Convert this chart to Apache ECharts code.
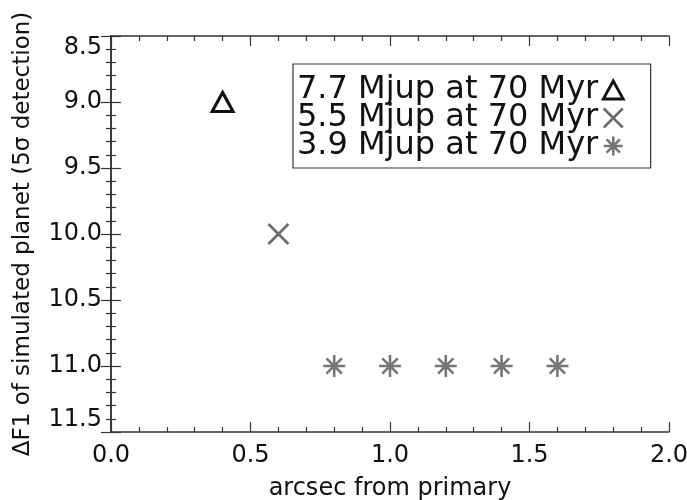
<!DOCTYPE html>
<html>
<head>
<meta charset="utf-8">
<script src="https://cdn.jsdelivr.net/npm/echarts@6/dist/echarts.min.js"></script>
<style>
  html, body { margin: 0; padding: 0; background: #fff; }
  #main { width: 687px; height: 500px; }
</style>
</head>
<body>
<div id="main"></div>
<script>
// detection limits
const seriesNames = ['7.7 Mjup at 70 Myr', '5.5 Mjup at 70 Myr', '3.9 Mjup at 70 Myr'];
const sepTriangle = [0.4];
const dF1Triangle = [9.0];
const sepCross = [0.6];
const dF1Cross = [10.0];
const sepStar = [0.8, 1.0, 1.2, 1.4, 1.6];
const dF1Star = [11.0, 11.0, 11.0, 11.0, 11.0];

const FONT = 'DejaVu Sans';
const INK = '#111';
const GREY = '#6a6a6a';
const STAR_GREY = '#767676';

const triPath = 'path://M5,0 L10,9 L0,9 Z';
const crossPath = 'path://M0,0 L10,10 M10,0 L0,10';
const starPath = 'path://M5,0 L5,10 M0,5 L10,5 M1.5,1.5 L8.5,8.5 M8.5,1.5 L1.5,8.5';

const pair = (xs, ys) => xs.map((x, i) => [x, ys[i]]);

const fmt1 = v => Number(v).toFixed(1);

function frameAxis(pos, isX, show) {
  const ax = {
    type: 'value',
    position: pos,
    min: isX ? 0 : 8.5,
    max: isX ? 2.0 : 11.5,
    interval: 0.5,
    axisLine: { show: true, lineStyle: { color: '#333', width: 1.5 } },
    axisTick: { show: true, inside: true, length: 10, lineStyle: { color: '#333', width: 1.2 } },
    minorTick: { show: true, splitNumber: 5, length: 5, lineStyle: { color: '#333', width: 1.2 } },
    splitLine: { show: false },
    axisLabel: {
      show: show,
      formatter: fmt1,
      fontFamily: FONT,
      fontSize: 24,
      color: INK,
      margin: isX ? 12 : 9
    }
  };
  if (!isX) {
    ax.inverse = true;
    ax.axisLabel.verticalAlignMinLabel = 'top';
    ax.axisLabel.verticalAlignMaxLabel = 'bottom';
  }
  return ax;
}

const xMain = frameAxis('bottom', true, true);
xMain.name = 'arcsec from primary';
xMain.nameLocation = 'middle';
xMain.nameGap = 45;
xMain.nameTextStyle = { fontFamily: FONT, fontSize: 24, color: INK };

const yMain = frameAxis('left', false, true);
yMain.name = 'ΔF1 of simulated planet (5σ detection)';
yMain.nameLocation = 'middle';
yMain.nameGap = 76;
yMain.nameTextStyle = { fontFamily: FONT, fontSize: 23, color: INK };

const option = {
  backgroundColor: '#fff',
  animation: false,
  grid: { left: 111, right: 18, top: 36, bottom: 68, outerBoundsMode: 'none' },
  xAxis: [xMain, frameAxis('top', true, false)],
  yAxis: [yMain, frameAxis('right', false, false)],
  legend: {
    orient: 'vertical',
    left: 293,
    top: 64,
    align: 'right',
    padding: [10, 26, 6, 4],
    itemGap: -4,
    itemWidth: 20,
    itemHeight: 19,
    borderColor: '#333',
    borderWidth: 1.2,
    selectedMode: false,
    textStyle: { fontFamily: FONT, fontSize: 32, color: INK },
    data: [
      { name: seriesNames[0], icon: triPath, itemStyle: { color: 'transparent', borderColor: INK, borderWidth: 2.8, opacity: 1 } },
      { name: seriesNames[1], icon: crossPath, itemStyle: { color: 'transparent', borderColor: GREY, borderWidth: 2.5, opacity: 1 } },
      { name: seriesNames[2], icon: starPath, itemStyle: { color: 'transparent', borderColor: STAR_GREY, borderWidth: 2.6, opacity: 1 } }
    ]
  },
  series: [
    {
      name: seriesNames[0], type: 'scatter', symbol: triPath, symbolSize: [21, 19],
      itemStyle: { color: 'transparent', borderColor: INK, borderWidth: 3, opacity: 1 },
      data: pair(sepTriangle, dF1Triangle)
    },
    {
      name: seriesNames[1], type: 'scatter', symbol: crossPath, symbolSize: 20,
      itemStyle: { color: 'transparent', borderColor: GREY, borderWidth: 2.6, opacity: 1 },
      data: pair(sepCross, dF1Cross)
    },
    {
      name: seriesNames[2], type: 'scatter', symbol: starPath, symbolSize: 22,
      itemStyle: { color: 'transparent', borderColor: STAR_GREY, borderWidth: 2.6, opacity: 1 },
      data: pair(sepStar, dF1Star)
    }
  ]
};

const chart = echarts.init(document.getElementById('main'));
chart.setOption(option);
</script>
</body>
</html>
